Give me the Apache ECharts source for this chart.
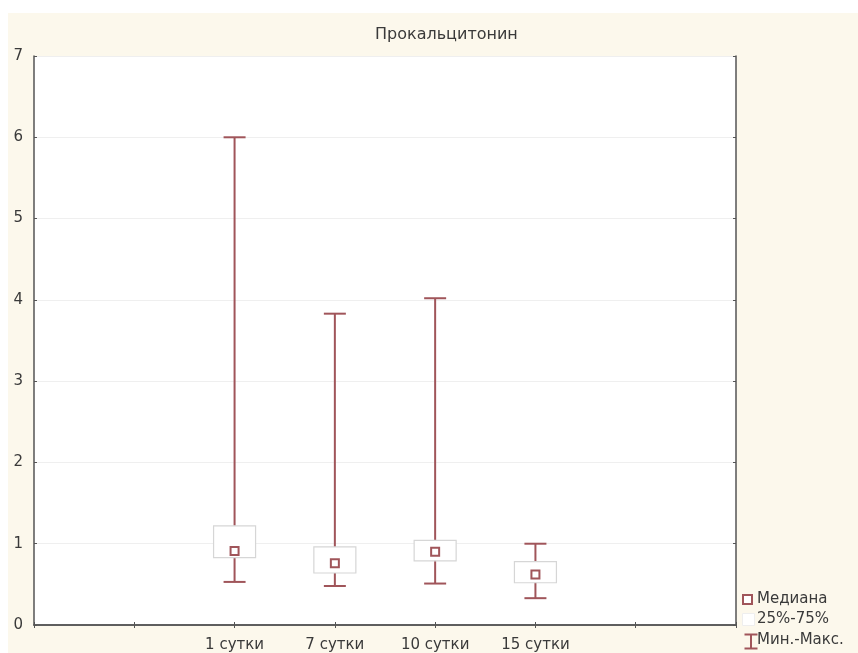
<!DOCTYPE html>
<html>
<head>
<meta charset="utf-8">
<script src="https://cdn.jsdelivr.net/npm/echarts@6/dist/echarts.min.js"></script>
<style>
  html, body { margin: 0; padding: 0; background: #fff; }
  #chart { width: 858px; height: 653px; }
</style>
</head>
<body>
<div id="chart"></div>
<script>
// слоты оси X: по краям пустые позиции, как в исходном графике
const categories = ['', '', '1 сутки', '7 сутки', '10 сутки', '15 сутки', '', '']
const dayIndex = [2, 3, 4, 5]
const minValues = [0.53, 0.48, 0.51, 0.33]
const q1Values = [0.83, 0.64, 0.79, 0.52]
const medianValues = [0.91, 0.76, 0.90, 0.62]
const q3Values = [1.22, 0.96, 1.04, 0.78]
const maxValues = [6.0, 3.83, 4.02, 1.0]
const legendLabels = ['Медиана', '25%-75%', 'Мин.-Макс.']

const whiskerColor = '#a0555a'
const boxBorder = '#d6d6d6'
const axisColor = '#555'
const textColor = '#3a3a3a'
const font = '"DejaVu Sans", "Liberation Sans", sans-serif'

const chart = echarts.init(document.getElementById('chart'))

const whiskerData = dayIndex.map((d, i) => [d, minValues[i], maxValues[i]])
const boxData = dayIndex.map((d, i) => [d, q1Values[i], q3Values[i]])
const medianData = dayIndex.map((d, i) => [d, medianValues[i]])

const renderWhisker = (params, api) => {
  const x = api.value(0)
  const top = api.coord([x, api.value(2)])
  const bot = api.coord([x, api.value(1)])
  const cap = 11
  const style = { stroke: whiskerColor, lineWidth: 2 }
  return {
    type: 'group',
    children: [
      { type: 'line', shape: { x1: top[0], y1: top[1], x2: bot[0], y2: bot[1] }, style },
      { type: 'line', shape: { x1: top[0] - cap, y1: top[1], x2: top[0] + cap, y2: top[1] }, style },
      { type: 'line', shape: { x1: bot[0] - cap, y1: bot[1], x2: bot[0] + cap, y2: bot[1] }, style }
    ]
  }
}

const renderBox = (params, api) => {
  const x = api.value(0)
  const top = api.coord([x, api.value(2)])
  const bot = api.coord([x, api.value(1)])
  const half = 21
  return {
    type: 'rect',
    shape: { x: top[0] - half, y: top[1], width: half * 2, height: bot[1] - top[1] },
    style: { fill: '#fff', stroke: boxBorder, lineWidth: 1.2 }
  }
}

// легенда справа внизу
const legendX = 743
const legendY = [599, 619, 640]
const legendText = (label, y) => ({
  type: 'text', left: legendX + 14, top: y - 7,
  style: { text: label, fill: textColor, font: '15px ' + font }
})

chart.setOption({
  backgroundColor: '#fff',
  animation: false,
  title: {
    text: 'Прокальцитонин',
    left: 370,
    top: 22,
    textStyle: { color: textColor, fontSize: 16, fontWeight: 'normal', fontFamily: font }
  },
  grid: {
    left: 34, right: 122, top: 56, bottom: 28,
    show: true, backgroundColor: '#fff', borderWidth: 0
  },
  xAxis: [
    {
      type: 'category', data: categories, boundaryGap: false,
      axisLine: { lineStyle: { color: axisColor, width: 1.5 } },
      axisTick: { inside: true, length: 3, lineStyle: { color: axisColor } },
      axisLabel: { color: textColor, fontSize: 15, fontFamily: font, margin: 13, interval: 0 },
      splitLine: { show: false }
    },
    {
      type: 'category', data: categories, boundaryGap: false, position: 'top',
      axisLine: { lineStyle: { color: axisColor, width: 1.5 } },
      axisTick: { inside: true, length: 3, lineStyle: { color: axisColor } },
      axisLabel: { show: false },
      splitLine: { show: false }
    }
  ],
  yAxis: [
    {
      type: 'value', min: 0, max: 7, interval: 1,
      axisLine: { show: true, lineStyle: { color: axisColor, width: 1.5 } },
      axisTick: { show: true, inside: true, length: 3, lineStyle: { color: axisColor } },
      axisLabel: { color: textColor, fontSize: 15, fontFamily: font, margin: 11 },
      splitLine: { lineStyle: { color: '#efefef', width: 1 } }
    },
    {
      type: 'value', min: 0, max: 7, interval: 1, position: 'right',
      axisLine: { show: true, lineStyle: { color: axisColor, width: 1.5 } },
      axisTick: { show: true, inside: true, length: 3, lineStyle: { color: axisColor } },
      axisLabel: { show: false },
      splitLine: { show: false }
    }
  ],
  graphic: [
    {
      type: 'rect', z: -10, silent: true,
      shape: { x: 8, y: 13, width: 850, height: 640 },
      style: { fill: '#fcf8ec' }
    },
    {
      type: 'rect', left: legendX - 1, top: legendY[0] - 5,
      shape: { width: 9, height: 9 },
      style: { fill: '#fff', stroke: whiskerColor, lineWidth: 2 }
    },
    {
      type: 'rect', left: legendX - 1, top: legendY[1] - 6,
      shape: { width: 12, height: 12 },
      style: { fill: '#fff', stroke: '#eeeeee', lineWidth: 1 }
    },
    {
      type: 'polyline', left: legendX - 1, top: legendY[2] - 8,
      shape: { points: [[0, 0], [13, 0], [6.5, 0], [6.5, 14], [0, 14], [13, 14]] },
      style: { stroke: whiskerColor, lineWidth: 2, fill: null }
    },
    legendText(legendLabels[0], legendY[0]),
    legendText(legendLabels[1], legendY[1]),
    legendText(legendLabels[2], legendY[2])
  ],
  series: [
    {
      name: 'Мин.-Макс.', type: 'custom', renderItem: renderWhisker,
      data: whiskerData, encode: { x: 0, y: [1, 2] }, z: 2
    },
    {
      name: '25%-75%', type: 'custom', renderItem: renderBox,
      data: boxData, encode: { x: 0, y: [1, 2] }, z: 3
    },
    {
      name: 'Медиана', type: 'scatter', data: medianData,
      symbol: 'rect', symbolSize: 8,
      itemStyle: { color: '#fff', borderColor: whiskerColor, borderWidth: 2, opacity: 1 },
      z: 4
    }
  ]
})

window.addEventListener('resize', () => chart.resize())
</script>
</body>
</html>
